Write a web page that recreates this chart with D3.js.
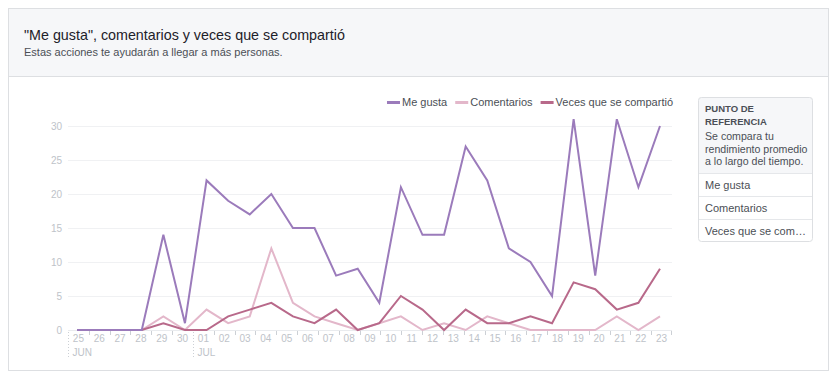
<!DOCTYPE html>
<html>
<head>
<meta charset="utf-8">
<script src="https://cdn.jsdelivr.net/npm/d3@7"></script>
<style>
  body { margin: 0; background: #fff; font-family: "Liberation Sans", Arial, sans-serif; }
  svg text { font-family: "Liberation Sans", Arial, sans-serif; }
</style>
</head>
<body>
<div id="chart"></div>
<script>
// etiquetas del eje (días) y meses
const dias = ["25", "26", "27", "28", "29", "30", "01", "02", "03", "04", "05", "06", "07", "08", "09",
  "10", "11", "12", "13", "14", "15", "16", "17", "18", "19", "20", "21", "22", "23"];
const meses = ["JUN", "JUL"];
const inicioMes = ["25", "01"];
const yTicks = [0, 5, 10, 15, 20, 25, 30];

// series (28 puntos)
const meGusta = [0, 0, 0, 0, 14, 1, 22, 19, 17, 20, 15, 15, 8, 9, 4, 21, 14, 14, 27, 22, 12, 10, 5, 31, 8, 31, 21, 30];
const comentarios = [0, 0, 0, 0, 2, 0, 3, 1, 2, 12, 4, 2, 1, 0, 1, 2, 0, 1, 0, 2, 1, 0, 0, 0, 0, 2, 0, 2];
const veces = [0, 0, 0, 0, 1, 0, 0, 2, 3, 4, 2, 1, 3, 0, 1, 5, 3, 0, 3, 1, 1, 2, 1, 7, 6, 3, 4, 9];

const seriesNombres = ["Me gusta", "Comentarios", "Veces que se compartió"];
const panelFilas = ["Me gusta", "Comentarios", "Veces que se com…"];
const colores = ["#9b7bbb", "#e3b7ca", "#b8698a"];

const W = 837, H = 376;
const svg = d3.select("#chart").append("svg")
  .attr("width", W).attr("height", H);

// tarjeta
svg.append("rect").attr("x", 8.5).attr("y", 8.5).attr("width", 820).attr("height", 362)
  .attr("fill", "#fff").attr("stroke", "#dddfe2");
svg.append("rect").attr("x", 9).attr("y", 9).attr("width", 819).attr("height", 67)
  .attr("fill", "#f6f7f9");
svg.append("line").attr("x1", 9).attr("x2", 828).attr("y1", 76.5).attr("y2", 76.5)
  .attr("stroke", "#dddfe2");

svg.append("text").attr("x", 24).attr("y", 40)
  .attr("font-size", 14.3).attr("fill", "#1d2129")
  .text("\"Me gusta\", comentarios y veces que se compartió");
svg.append("text").attr("x", 24).attr("y", 56)
  .attr("font-size", 11).attr("fill", "#4b4f56")
  .text("Estas acciones te ayudarán a llegar a más personas.");

// escalas
const xBand = d3.scaleBand().domain(dias).range([68, 672]).padding(0);
const xPt = d3.scalePoint().domain(d3.range(meGusta.length)).range([77, 660]);
const y = d3.scaleLinear().domain([0, 30]).range([330, 126]);

const chart = svg.append("g");

// rejilla
chart.selectAll(".grid").data(yTicks.filter(d => d > 0)).enter().append("line")
  .attr("x1", 68).attr("x2", 672)
  .attr("y1", d => Math.round(y(d)) + 0.5).attr("y2", d => Math.round(y(d)) + 0.5)
  .attr("stroke", "#f0f1f3");
chart.append("line").attr("x1", 68).attr("x2", 672)
  .attr("y1", y(0) + 0.5).attr("y2", y(0) + 0.5).attr("stroke", "#e9ebee");

// eje y
const yAxis = chart.append("g")
  .attr("transform", "translate(62,0)")
  .call(d3.axisLeft(y).tickValues(yTicks).tickSize(0).tickPadding(0));
yAxis.select(".domain").remove();
yAxis.selectAll("text").attr("fill", "#bec3c9").attr("font-size", 10);

// eje x
const xAxis = chart.append("g")
  .attr("transform", `translate(0,${y(0)})`)
  .call(d3.axisBottom(xBand).tickSize(0).tickPadding(5));
xAxis.select(".domain").remove();
xAxis.selectAll("text").attr("fill", "#bec3c9").attr("font-size", 10);

chart.selectAll(".tickx").data(dias.filter(d => !inicioMes.includes(d))).enter().append("line")
  .attr("x1", d => Math.round(xBand(d)) + 0.5).attr("x2", d => Math.round(xBand(d)) + 0.5)
  .attr("y1", y(0) + 1).attr("y2", y(0) + 5)
  .attr("stroke", "#ccd0d5");
chart.append("line")
  .attr("x1", 671.5).attr("x2", 671.5).attr("y1", y(0) + 1).attr("y2", y(0) + 5)
  .attr("stroke", "#ccd0d5");

meses.forEach((m, i) => {
  const x0 = Math.round(xBand(inicioMes[i])) + 0.5;
  chart.append("line").attr("x1", x0).attr("x2", x0)
    .attr("y1", y(0) + 2).attr("y2", y(0) + 29)
    .attr("stroke", "#ccd0d5").attr("stroke-dasharray", "1,2");
  chart.append("text").attr("x", x0 + 4).attr("y", y(0) + 26)
    .attr("font-size", 10).attr("fill", "#bec3c9").text(m);
});

// líneas
const line = d3.line().x((d, i) => xPt(i)).y(d => y(d));
[comentarios, veces, meGusta].forEach((serie, k) => {
  const idx = [1, 2, 0][k];
  chart.append("path").datum(serie)
    .attr("d", line)
    .attr("fill", "none")
    .attr("stroke", colores[idx])
    .attr("stroke-width", 2)
    .attr("stroke-linejoin", "miter");
});

// leyenda (alineada a la derecha)
const leyenda = svg.append("g");
let xr = 673;
for (let i = seriesNombres.length - 1; i >= 0; i--) {
  const t = leyenda.append("text").attr("y", 106).attr("font-size", 11)
    .attr("fill", "#4b4f56").text(seriesNombres[i]);
  const w = t.node().getComputedTextLength();
  t.attr("x", xr - w);
  leyenda.append("rect").attr("x", xr - w - 15).attr("y", 101).attr("width", 13).attr("height", 3)
    .attr("fill", colores[i]);
  xr = xr - w - 15 - 8;
}

// panel de referencia
const px = 698, py = 97, pw = 115;
const panel = svg.append("g");
const clip = svg.append("clipPath").attr("id", "pclip");
clip.append("rect").attr("x", px).attr("y", py).attr("width", pw).attr("height", 145).attr("rx", 3);
panel.append("rect").attr("x", px).attr("y", py).attr("width", pw).attr("height", 76)
  .attr("fill", "#f6f7f9").attr("clip-path", "url(#pclip)");
panel.append("rect").attr("x", px + 0.5).attr("y", py + 0.5).attr("width", pw - 1).attr("height", 144)
  .attr("rx", 3).attr("fill", "none").attr("stroke", "#dddfe2");

["PUNTO DE", "REFERENCIA"].forEach((s, i) => {
  panel.append("text").attr("x", 705).attr("y", 112 + i * 12.5)
    .attr("font-size", 9.5).attr("font-weight", "bold").attr("fill", "#4b4f56").text(s);
});
["Se compara tu", "rendimiento promedio", "a lo largo del tiempo."].forEach((s, i) => {
  panel.append("text").attr("x", 705).attr("y", 140 + i * 12.5)
    .attr("font-size", 10.6).attr("fill", "#4b4f56").text(s);
});
panelFilas.forEach((s, i) => {
  const top = 173 + i * 23;
  panel.append("line").attr("x1", px + 1).attr("x2", px + pw - 1)
    .attr("y1", top + 0.5).attr("y2", top + 0.5).attr("stroke", "#e5e7ea");
  panel.append("text").attr("x", 705).attr("y", top + 15.5)
    .attr("font-size", 11).attr("fill", "#4b4f56").text(s);
});
</script>
</body>
</html>
